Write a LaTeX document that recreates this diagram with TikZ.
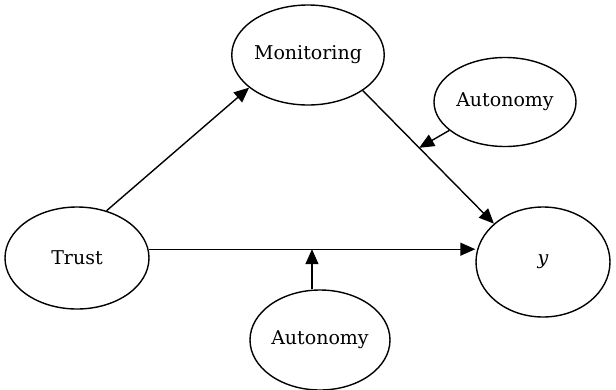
\documentclass[tikz,border=0pt]{standalone}
\usepackage{fontspec}
\setmainfont{DejaVu Serif}
\usetikzlibrary{shapes.geometric,arrows.meta,calc}
\begin{document}
\begin{tikzpicture}[x=1pt,y=-1pt,
  var/.style={draw,ellipse,line width=1.4pt,inner sep=0pt,font=\fontsize{19}{22}\selectfont},
  arr/.style={line width=1.4pt,-{Triangle[length=15pt,width=13pt]}}]
\useasboundingbox (0,0) rectangle (616,389);
\node[var,minimum width=152pt,minimum height=100pt] (mon) at (308,55) {Monitoring};
\node[var,minimum width=142pt,minimum height=89pt] (aut1) at (505,102) {Autonomy};
\node[var,minimum width=144pt,minimum height=102pt] (trust) at (77,258) {Trust};
\node[var,minimum width=134pt,minimum height=110pt] (y) at (543,262) {\itshape y};
\node[var,minimum width=140pt,minimum height=100pt] (aut2) at (320,340) {Autonomy};
\draw[arr] (trust.58) -- (mon.209.6);
\draw[arr] (mon.-33) -- (y.142);
\draw[arr] (trust.7) -- (trust.7 -| y.west);
\coordinate (hit) at ($(trust.7)!0.5!(trust.7 -| y.west)$);
\draw[arr] (hit |- aut2.north) -- (hit);
\coordinate (hit2) at ($(mon.-33)!0.43!(y.142)$);
\draw[arr] (aut1.207) -- (hit2);
\end{tikzpicture}
\end{document}
